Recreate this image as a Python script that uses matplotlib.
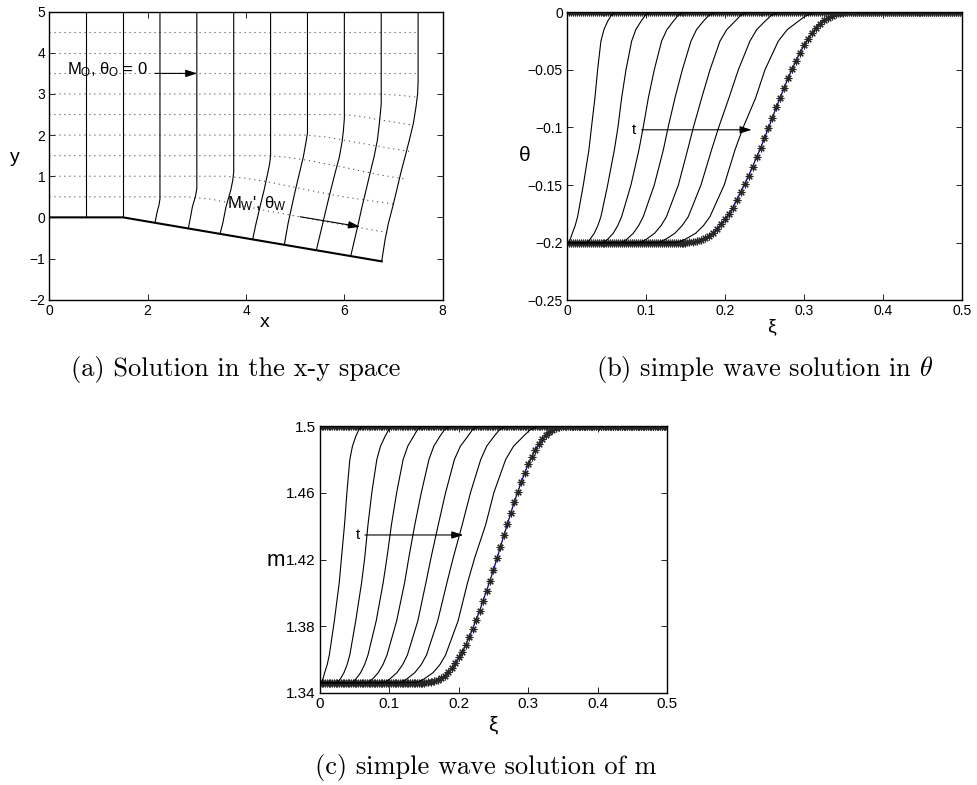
import numpy as np
import matplotlib
matplotlib.use('Agg')
import matplotlib.pyplot as plt

plt.rcParams['font.family'] = ['Liberation Sans', 'DejaVu Sans']
plt.rcParams['mathtext.fontset'] = 'custom'
plt.rcParams['mathtext.rm'] = 'Liberation Sans'
plt.rcParams['mathtext.it'] = 'Liberation Sans'
plt.rcParams['mathtext.bf'] = 'Liberation Sans:bold'
plt.rcParams['axes.unicode_minus'] = True

# ---------------- (a) solution in the x-y space ----------------
wall_x = [0.0, 1.5, 6.76]
wall_y = [0.0, 0.0, -1.07]

line0_x = [0.75, 0.75]
line0_y = [0.0, 5.0]
line1_x = [1.5, 1.5]
line1_y = [0.0, 5.0]
lineA_x = [2.25, 2.25, 2.23, 2.19, 2.15]
lineA_y = [5.0, 0.45, 0.30, 0.12, -0.13]
lineB_x = [3.0, 3.0, 2.97, 2.91, 2.87, 2.826]
lineB_y = [5.0, 0.70, 0.50, 0.26, 0.0, -0.27]
lineC_x = [3.75, 3.75, 3.73, 3.69, 3.594, 3.526, 3.472]
lineC_y = [5.0, 1.10, 0.90, 0.66, 0.26, -0.15, -0.40]
lineD_x = [4.5, 4.5, 4.48, 4.441, 4.367, 4.285, 4.204, 4.136]
lineD_y = [5.0, 1.5, 1.3, 1.07, 0.66, 0.26, -0.15, -0.53]
lineE_x = [5.25, 5.25, 5.22, 5.166, 5.085, 5.004, 4.93, 4.855, 4.78]
lineE_y = [5.0, 2.05, 1.83, 1.47, 1.07, 0.66, 0.26, -0.15, -0.665]
lineF_x = [6.0, 6.0, 5.98, 5.953, 5.899, 5.81, 5.723, 5.641, 5.56, 5.43]
lineF_y = [5.0, 2.4, 2.1, 1.83, 1.47, 1.07, 0.66, 0.26, -0.15, -0.80]
lineG_x = [6.75, 6.75, 6.712, 6.671, 6.604, 6.522, 6.441, 6.36, 6.284, 6.13]
lineG_y = [5.0, 2.75, 2.28, 1.87, 1.47, 1.07, 0.66, 0.26, -0.15, -0.94]
lineH_x = [7.5, 7.5, 7.49, 7.458, 7.403, 7.32, 7.234, 7.146, 7.065, 6.984, 6.895, 6.827, 6.76]
lineH_y = [5.0, 3.3, 3.0, 2.69, 2.28, 1.87, 1.47, 1.07, 0.66, 0.26, -0.15, -0.55, -1.07]

stream1_x = [0.0, 2.8, 3.3, 3.8, 4.3, 4.93, 6.25, 6.93]
stream1_y = [0.5, 0.5, 0.44, 0.32, 0.19, 0.05, -0.24, -0.38]
stream2_x = [0.0, 3.6, 4.0, 4.5, 5.235, 5.98, 7.07]
stream2_y = [1.0, 1.0, 0.95, 0.85, 0.67, 0.50, 0.31]
stream3_x = [0.0, 4.45, 4.85, 5.235, 5.98, 6.725, 7.2]
stream3_y = [1.5, 1.5, 1.46, 1.39, 1.22, 1.03, 0.94]
stream4_x = [0.0, 5.2, 5.6, 5.98, 6.725, 7.335]
stream4_y = [2.0, 2.0, 1.96, 1.88, 1.72, 1.60]
stream5_x = [0.0, 5.95, 6.35, 6.725, 7.40]
stream5_y = [2.5, 2.5, 2.45, 2.37, 2.24]
stream6_x = [0.0, 6.7, 7.1, 7.44]
stream6_y = [3.0, 3.0, 2.97, 2.93]
stream7_x = [0.0, 7.45]
stream7_y = [3.5, 3.5]
stream8_x = [0.0, 7.45]
stream8_y = [4.0, 4.0]
stream9_x = [0.0, 7.45]
stream9_y = [4.5, 4.5]

a_xticks = [0, 2, 4, 6, 8]
a_yticks = [-2, -1, 0, 1, 2, 3, 4, 5]

# ---------------- (b)/(c) simple wave profiles ----------------
theta_levels = [-0.2, -0.197, -0.1918, -0.185, -0.1774, -0.15, -0.1195, -0.1,
                -0.0744, -0.05, -0.025, -0.015, -0.0078, -0.003, 0.0]
m_levels = [1.3462, 1.3484, 1.3522, 1.3571, 1.3628, 1.3832, 1.4062, 1.4211,
            1.4409, 1.4601, 1.4799, 1.4879, 1.4937, 1.4976, 1.5]

curve1_xi = [0.002, 0.0042, 0.0068, 0.0105, 0.0135, 0.0207, 0.0278, 0.031, 0.0354, 0.0388, 0.043, 0.0468, 0.0515, 0.0558, 0.061]
curve2_xi = [0.025, 0.0293, 0.0346, 0.0392, 0.043, 0.0515, 0.060, 0.0645, 0.0692, 0.0747, 0.0819, 0.0872, 0.0937, 0.0988, 0.105]
curve3_xi = [0.046, 0.0517, 0.0586, 0.0644, 0.0692, 0.081, 0.0911, 0.0965, 0.103, 0.1105, 0.1198, 0.1265, 0.1346, 0.1402, 0.147]
curve4_xi = [0.069, 0.0758, 0.084, 0.0909, 0.0966, 0.1105, 0.122, 0.128, 0.1367, 0.146, 0.157, 0.164, 0.1726, 0.1791, 0.187]
curve5_xi = [0.092, 0.1006, 0.111, 0.1193, 0.126, 0.141, 0.1527, 0.160, 0.1705, 0.181, 0.1937, 0.2023, 0.2127, 0.2194, 0.2275]
curve6_xi = [0.1156, 0.1251, 0.1367, 0.146, 0.1536, 0.1696, 0.183, 0.192, 0.205, 0.2169, 0.2316, 0.2402, 0.2506, 0.2582, 0.2675]
curve7_xi = [0.139, 0.1498, 0.163, 0.173, 0.181, 0.199, 0.2127, 0.223, 0.2388, 0.2506, 0.2675, 0.2789, 0.2928, 0.3023, 0.314]

star_xi = [0.150, 0.155, 0.160, 0.165, 0.170, 0.175, 0.180, 0.185, 0.190, 0.195,
           0.200, 0.205, 0.210, 0.215, 0.220, 0.225, 0.230, 0.235, 0.240, 0.245,
           0.250, 0.255, 0.260, 0.265, 0.270, 0.275, 0.280, 0.285, 0.290, 0.295,
           0.300, 0.305, 0.310, 0.315, 0.320, 0.325, 0.330, 0.335, 0.340, 0.345,
           0.350, 0.355, 0.360]
star_theta = [-0.2000, -0.1998, -0.1995, -0.1988, -0.1978, -0.1963, -0.1943, -0.1915, -0.1880, -0.1840,
              -0.1795, -0.1750, -0.1695, -0.1630, -0.1560, -0.1490, -0.1420, -0.1340, -0.1260, -0.1180,
              -0.1095, -0.1005, -0.0915, -0.0825, -0.0740, -0.0655, -0.0570, -0.0495, -0.0420, -0.0350,
              -0.0285, -0.0230, -0.0180, -0.0135, -0.0098, -0.0068, -0.0045, -0.0028, -0.0015, -0.0007,
              -0.0002, 0.0, 0.0]
star_m = [1.3462, 1.3464, 1.3466, 1.3471, 1.3478, 1.3489, 1.3504, 1.3524, 1.3549, 1.3579,
          1.3613, 1.3645, 1.3687, 1.3735, 1.3786, 1.3839, 1.3892, 1.3952, 1.4012, 1.4074,
          1.4138, 1.4207, 1.4276, 1.4347, 1.4412, 1.4478, 1.4546, 1.4604, 1.4664, 1.4719,
          1.4771, 1.4815, 1.4855, 1.4891, 1.4921, 1.4945, 1.4963, 1.4977, 1.4988, 1.4995,
          1.4998, 1.5, 1.5]

theta_low, theta_high = -0.2, 0.0
m_low, m_high = 1.3462, 1.5

b_xticks = [0, 0.1, 0.2, 0.3, 0.4, 0.5]
b_xticklabels = ['0', '0.1', '0.2', '0.3', '0.4', '0.5']
b_yticks = [-0.25, -0.2, -0.15, -0.1, -0.05, 0]
b_yticklabels = ['\u22120.25', '\u22120.2', '\u22120.15', '\u22120.1', '\u22120.05', '0']
c_yticks = [1.34, 1.38, 1.42, 1.46, 1.5]
c_yticklabels = ['1.34', '1.38', '1.42', '1.46', '1.5']

thin_curves = [curve1_xi, curve2_xi, curve3_xi, curve4_xi, curve5_xi, curve6_xi, curve7_xi]

fig = plt.figure(figsize=(9.77, 7.85), dpi=100)

def style_axes(ax, labelsize):
    ax.tick_params(direction='in', top=True, right=True, length=4, width=0.6,
                   labelsize=labelsize, pad=3)
    for s in ax.spines.values():
        s.set_linewidth(1.0)

# ---------- panel (a) ----------
axa = fig.add_axes([0.0505, 0.6183, 0.4026, 0.3668])
streams = [(stream1_x, stream1_y), (stream2_x, stream2_y), (stream3_x, stream3_y),
           (stream4_x, stream4_y), (stream5_x, stream5_y), (stream6_x, stream6_y),
           (stream7_x, stream7_y), (stream8_x, stream8_y), (stream9_x, stream9_y)]
for sx, sy in streams:
    axa.plot(sx, sy, linestyle=(0, (1, 3.5)), color='0.3', lw=0.8)
lines = [(line0_x, line0_y), (line1_x, line1_y), (lineA_x, lineA_y), (lineB_x, lineB_y),
         (lineC_x, lineC_y), (lineD_x, lineD_y), (lineE_x, lineE_y), (lineF_x, lineF_y),
         (lineG_x, lineG_y), (lineH_x, lineH_y)]
for lx, ly in lines:
    axa.plot(lx, ly, color='k', lw=0.8)
axa.plot(wall_x, wall_y, color='k', lw=1.5)
axa.set_xlim(0, 8)
axa.set_ylim(-2, 5)
axa.set_xticks(a_xticks)
axa.set_yticks(a_yticks)
style_axes(axa, 10)
axa.set_xlabel('x', fontsize=14)
axa.xaxis.set_label_coords(0.548, -0.078)
axa.xaxis.label.set_va('center')
axa.set_ylabel('y', fontsize=14, rotation=0)
axa.yaxis.set_label_coords(-0.087, 0.492)
axa.yaxis.label.set_va('center')
axa.yaxis.label.set_ha('center')

arrow_kw = dict(arrowstyle='-|>,head_length=0.7,head_width=0.22', color='k', lw=0.8,
                mutation_scale=10, shrinkA=0, shrinkB=0)
axa.text(0.35, 3.48, r'$M_O$, $\theta_O$ = 0', fontsize=12, ha='left', va='baseline')
axa.annotate('', xy=(3.01, 3.5), xytext=(2.15, 3.5), arrowprops=arrow_kw)
axa.text(3.62, 0.22, r"$M_W$', $\theta_W$", fontsize=12, ha='left', va='baseline')
axa.annotate('', xy=(6.32, -0.229), xytext=(5.1, 0.015), arrowprops=arrow_kw)

# ---------- panels (b) and (c) ----------
xi_grid = np.linspace(0.0, 0.5, 201)
lo_grid = xi_grid[xi_grid < star_xi[0]]
hi_grid = xi_grid[xi_grid > star_xi[-1]]

star_kw = dict(color='#000080', lw=0.9, marker=(8, 2, 0), ms=5.5, mfc='0.15', mec='0.15',
               mew=0.8, zorder=2)

def wave_panel(ax, levels, star_vals, low, high):
    ax.plot(xi_grid, np.full_like(xi_grid, high), **star_kw)
    sx = np.concatenate([lo_grid, star_xi, hi_grid])
    sy = np.concatenate([np.full_like(lo_grid, low), star_vals, np.full_like(hi_grid, high)])
    ax.plot(sx, sy, **star_kw)
    for cx in thin_curves:
        ax.plot([0.0] + cx + [0.5], [low] + levels + [high], color='k', lw=0.8, zorder=3)
    ax.set_xlim(0, 0.5)
    ax.set_xticks(b_xticks)
    ax.set_xticklabels(b_xticklabels)

axb = fig.add_axes([0.5803, 0.6175, 0.4043, 0.3668])
wave_panel(axb, theta_levels, star_theta, theta_low, theta_high)
axb.set_ylim(-0.25, 0)
axb.set_yticks(b_yticks)
axb.set_yticklabels(b_yticklabels)
style_axes(axb, 10)
axb.set_xlabel('\u03be', fontsize=14)
axb.xaxis.set_label_coords(0.519, -0.093)
axb.xaxis.label.set_va('center')
axb.set_ylabel('\u03b8', fontsize=15, rotation=0)
axb.yaxis.set_label_coords(-0.106, 0.504)
axb.yaxis.label.set_va('center')
axb.yaxis.label.set_ha('center')
axb.text(0.0844, -0.102, 't', fontsize=11, ha='center', va='center')
axb.annotate('', xy=(0.2338, -0.102), xytext=(0.0945, -0.102), arrowprops=arrow_kw)

axc = fig.add_axes([0.3275, 0.1172, 0.3552, 0.3401])
wave_panel(axc, m_levels, star_m, m_low, m_high)
axc.set_ylim(1.34, 1.5)
axc.set_yticks(c_yticks)
axc.set_yticklabels(c_yticklabels)
style_axes(axc, 11)
axc.set_xlabel('\u03be', fontsize=15)
axc.xaxis.set_label_coords(0.4986, -0.12)
axc.xaxis.label.set_va('center')
axc.set_ylabel('m', fontsize=16, rotation=0)
axc.yaxis.set_label_coords(-0.127, 0.495)
axc.yaxis.label.set_va('center')
axc.yaxis.label.set_ha('center')
axc.text(0.055, 1.4347, 't', fontsize=11, ha='center', va='center')
axc.annotate('', xy=(0.2066, 1.4347), xytext=(0.0648, 1.4347), arrowprops=arrow_kw)

# ---------- captions ----------
cap_kw = dict(fontsize=19, family='cmr10', ha='center', va='center')
fig.text(0.2416, 0.5287, '(a) Solution in the x-y space', **cap_kw)
fig.text(0.783, 0.5287, r'(b) simple wave solution in $\theta$', math_fontfamily='cm', **cap_kw)
fig.text(0.4975, 0.0217, '(c) simple wave solution of m', **cap_kw)

fig.savefig('out.png', dpi=100)
